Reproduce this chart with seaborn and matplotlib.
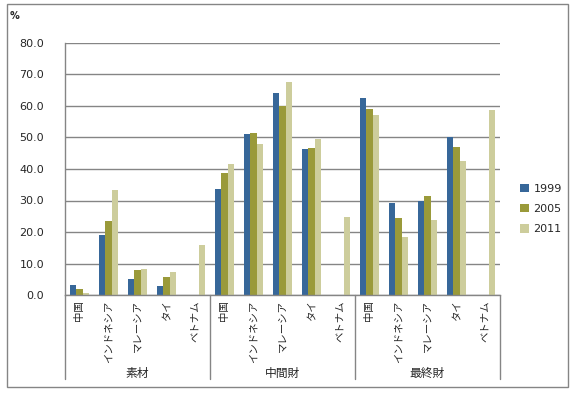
import matplotlib
matplotlib.use("Agg")
import matplotlib.pyplot as plt
import matplotlib.transforms as mtransforms
from matplotlib.patches import Rectangle, Patch
import seaborn as sns
import pandas as pd

groups = ["素材", "中間財", "最終財"]
countries = ["中国", "インドネシア", "マレーシア", "タイ", "ベトナム"]
years = ["1999", "2005", "2011"]

v1999 = [3.2, 19.0, 5.2, 2.8, 0.0,
         33.7, 51.2, 64.1, 46.3, 0.0,
         62.4, 29.2, 29.9, 50.2, 0.0]
v2005 = [1.8, 23.5, 7.9, 5.7, 0.0,
         38.6, 51.5, 60.1, 46.7, 0.0,
         59.0, 24.3, 31.4, 47.0, 0.0]
v2011 = [0.6, 33.3, 8.2, 7.3, 15.9,
         41.6, 47.8, 67.7, 49.4, 24.7,
         57.1, 18.5, 23.8, 42.5, 58.7]

colors = ["#376799", "#9a9a3a", "#cdcd9c"]

sns.set_theme(style="white")
plt.rcParams["font.family"] = ["Noto Sans CJK JP", "DejaVu Sans"]

keys = [f"{g}-{c}" for g in groups for c in countries]
rows = []
for y, vals in zip(years, [v1999, v2005, v2011]):
    for k, v in zip(keys, vals):
        rows.append({"slot": k, "year": y, "value": v})
df = pd.DataFrame(rows)

fig = plt.figure(figsize=(5.78, 3.93), dpi=100)
W, H = 578, 393
ax = fig.add_axes([65 / W, 1 - 295 / H, (500 - 65) / W, (295 - 43) / H])

sns.barplot(data=df, x="slot", y="value", hue="year", order=keys,
            hue_order=years, palette=colors, width=0.68, saturation=1,
            ax=ax, legend=False, edgecolor="none")

ax.set_ylim(0, 80)
ax.set_xlim(-0.5, len(keys) - 0.5)
ax.set_yticks(range(0, 81, 10))
ax.set_yticklabels([f"{t:.1f}" for t in range(0, 81, 10)], fontsize=8,
                   family=["DejaVu Sans"])
ax.yaxis.grid(True, color="#858585", linewidth=1)
ax.set_axisbelow(True)
ax.tick_params(axis="y", length=0, pad=15)
ax.tick_params(axis="x", length=0, pad=4)
ax.set_xticks(range(len(keys)))
ax.set_xticklabels([c for g in groups for c in countries], rotation=90,
                   fontsize=7.5, va="top", ha="center")
ax.set_xlabel("")
ax.set_ylabel("")
for s in ["top", "right"]:
    ax.spines[s].set_visible(False)
for s in ["left", "bottom"]:
    ax.spines[s].set_color("#858585")
    ax.spines[s].set_linewidth(1)

trans = mtransforms.blended_transform_factory(ax.transData, ax.transAxes)
sep_bottom = -(379 - 295) / (295 - 43)
for xb in [-0.5, 4.5, 9.5, 14.5]:
    ax.plot([xb, xb], [0, sep_bottom], transform=trans, color="#858585",
            linewidth=1, clip_on=False)
glabel_y = -(373 - 295) / (295 - 43)
for i, g in enumerate(groups):
    ax.text(i * 5 + 2, glabel_y, g, transform=trans, ha="center",
            va="center", fontsize=8.5)

fig.text(10 / W, 1 - 16 / H, "%", fontsize=7, fontweight="bold",
         ha="left", va="center", family=["DejaVu Sans"])

handles = [Patch(facecolor=c, edgecolor="none") for c in colors]
fig.legend(handles, years, loc="center left",
           bbox_to_anchor=(510 / W, 1 - 209 / H), frameon=False,
           prop={"family": ["DejaVu Sans"], "size": 8},
           handlelength=0.8, handleheight=0.8,
           handletextpad=0.4, labelspacing=0.9)

fig.patches.append(Rectangle((7 / W, 1 - 387 / H), (568 - 7) / W,
                             (387 - 4) / H, transform=fig.transFigure,
                             fill=False, edgecolor="#858585", linewidth=1))

fig.savefig("out.png", dpi=100)
